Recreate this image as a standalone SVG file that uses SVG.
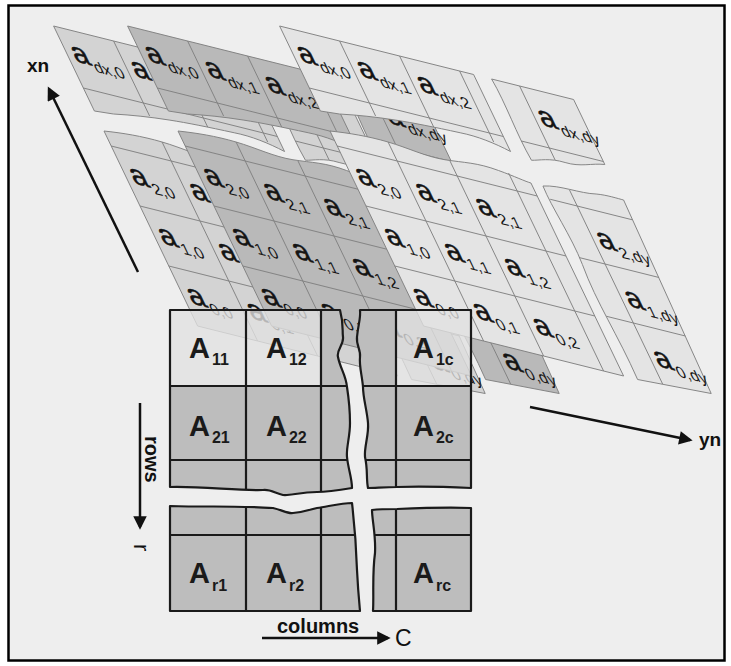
<svg xmlns="http://www.w3.org/2000/svg" width="731" height="666" viewBox="0 0 731 666">
<style>
.tl{stroke:#808080;stroke-width:0.8;stroke-linejoin:round}
.gl{fill:none;stroke:#808080;stroke-width:0.8}
.lab{font-family:"Liberation Sans",Arial,sans-serif;fill:#141414}
.g{font-size:30px;stroke:#141414;stroke-width:0.6}
.s{font-size:16px;stroke:none}
.m{stroke:#1a1a1a;stroke-width:2.2;fill:none;stroke-linejoin:round}
.lt{fill:#e2e2e2;fill-opacity:0.78}
.md{fill:#bdbdbd}
.A{font-family:"Liberation Sans",Arial,sans-serif;font-weight:bold;fill:#1a1a1a}
.ax{stroke:#111;stroke-width:2.5;fill:none}
.t{font-family:"Liberation Sans",Arial,sans-serif;fill:#111}
</style>
<defs>
<marker id="ah" viewBox="0 0 10 10" refX="8" refY="5" markerWidth="5.8" markerHeight="5.4" orient="auto" markerUnits="strokeWidth"><path d="M0,0 L10,5 L0,10 Z" fill="#111"/></marker>
<g id="tiles" class="tl">
<path d="M0,-105 L194,-105 L194,-28 C180,-33 165,-36 147,-35 C120,-34 100,-33 80,-31 C60,-29 40,-26 20,-22 L0,-20 Z"/>
<path d="M212,-105 L294,-105 L294,-40 C280,-38 265,-30 250,-31 C235,-32 222,-26 213,-24 C210,-50 215,-80 212,-105 Z"/>
<path d="M0,0 C20,-3 40,-5 60,-4 C80,-3 95,2 115,0 C135,-2 150,-6 170,-3 C185,-1 195,2 200,2 L200,195 L0,195 Z"/>
<path d="M212,2 C232,-4 250,0 268,-4 C280,-6 290,-5 296,-5 L290,190 L214,195 C216,150 209,120 214,80 C217,50 210,25 212,2 Z"/>
</g>
<g id="grid" class="gl">
<path d="M0,-43 H194 M212,-43 H294 M60,-105 V-30 M120,-105 V-34 M180,-105 V-34 M240,-105 V-31"/>
<path d="M0,15 H200 M0,75 H200 M0,135 H200 M213,15 H295 M214,73 H294 M213,132 H292 M60,-4 V195 M120,0 V195 M180,-3 V195 M240,-1 V193"/>
</g>
</defs>
<rect x="0" y="0" width="731" height="666" fill="#ffffff"/>
<rect x="8.5" y="5.5" width="716" height="655" fill="#eeeeee" stroke="#000" stroke-width="2.5"/>

<g id="layer-1" transform="matrix(1,0.25,0.48,1,104,131)">
<use href="#tiles" fill="#d3d3d3"/>
<use href="#grid"/>
<text class="lab" x="6" y="-71"><tspan class="g">a</tspan><tspan class="s" dx="1" dy="6">dx,0</tspan></text>
<text class="lab g" x="66" y="-71">a</text>
<text class="lab" x="6" y="51"><tspan class="g">a</tspan><tspan class="s" dx="1" dy="6">2,0</tspan></text>
<text class="lab g" x="66" y="51">a</text>
<text class="lab" x="6" y="111"><tspan class="g">a</tspan><tspan class="s" dx="1" dy="6">1,0</tspan></text>
<text class="lab g" x="66" y="111">a</text>
<text class="lab" x="6" y="171"><tspan class="g">a</tspan><tspan class="s" dx="1" dy="6">0,0</tspan></text>
<text class="lab" x="66" y="171"><tspan class="g">a</tspan><tspan class="s" dx="1" dy="6">0,1</tspan></text>
<text class="lab" x="245" y="176"><tspan class="g">a</tspan><tspan class="s" dx="1" dy="6">0,dy</tspan></text>
</g>

<g id="layer-2" transform="matrix(1,0.25,0.48,1,178,131)">
<use href="#tiles" fill="#b9b9b9"/>
<use href="#grid"/>
<text class="lab" x="6" y="-71"><tspan class="g">a</tspan><tspan class="s" dx="1" dy="6">dx,0</tspan></text>
<text class="lab" x="66" y="-71"><tspan class="g">a</tspan><tspan class="s" dx="1" dy="6">dx,1</tspan></text>
<text class="lab" x="126" y="-71"><tspan class="g">a</tspan><tspan class="s" dx="1" dy="6">dx,2</tspan></text>
<text class="lab" x="245" y="-69"><tspan class="g">a</tspan><tspan class="s" dx="1" dy="6">dx,dy</tspan></text>
<text class="lab" x="6" y="51"><tspan class="g">a</tspan><tspan class="s" dx="1" dy="6">2,0</tspan></text>
<text class="lab" x="66" y="51"><tspan class="g">a</tspan><tspan class="s" dx="1" dy="6">2,1</tspan></text>
<text class="lab" x="126" y="51"><tspan class="g">a</tspan><tspan class="s" dx="1" dy="6">2,1</tspan></text>
<text class="lab" x="6" y="111"><tspan class="g">a</tspan><tspan class="s" dx="1" dy="6">1,0</tspan></text>
<text class="lab" x="66" y="111"><tspan class="g">a</tspan><tspan class="s" dx="1" dy="6">1,1</tspan></text>
<text class="lab" x="126" y="111"><tspan class="g">a</tspan><tspan class="s" dx="1" dy="6">1,2</tspan></text>
<text class="lab" x="6" y="171"><tspan class="g">a</tspan><tspan class="s" dx="1" dy="6">0,0</tspan></text>
<text class="lab" x="66" y="171"><tspan class="g">a</tspan><tspan class="s" dx="1" dy="6">0,1</tspan></text>
<text class="lab" x="126" y="171"><tspan class="g">a</tspan><tspan class="s" dx="1" dy="6">0,2</tspan></text>
<text class="lab" x="245" y="176"><tspan class="g">a</tspan><tspan class="s" dx="1" dy="6">0,dy</tspan></text>
</g>

<g id="layer-3" transform="matrix(1,0.25,0.48,1,330,131)">
<use href="#tiles" fill="#e4e4e4"/>
<use href="#grid"/>
<text class="lab" x="6" y="-71"><tspan class="g">a</tspan><tspan class="s" dx="1" dy="6">dx,0</tspan></text>
<text class="lab" x="66" y="-71"><tspan class="g">a</tspan><tspan class="s" dx="1" dy="6">dx,1</tspan></text>
<text class="lab" x="126" y="-71"><tspan class="g">a</tspan><tspan class="s" dx="1" dy="6">dx,2</tspan></text>
<text class="lab" x="245" y="-67"><tspan class="g">a</tspan><tspan class="s" dx="1" dy="6">dx,dy</tspan></text>
<text class="lab" x="6" y="51"><tspan class="g">a</tspan><tspan class="s" dx="1" dy="6">2,0</tspan></text>
<text class="lab" x="66" y="51"><tspan class="g">a</tspan><tspan class="s" dx="1" dy="6">2,1</tspan></text>
<text class="lab" x="126" y="51"><tspan class="g">a</tspan><tspan class="s" dx="1" dy="6">2,1</tspan></text>
<text class="lab" x="245" y="55"><tspan class="g">a</tspan><tspan class="s" dx="1" dy="6">2,dy</tspan></text>
<text class="lab" x="6" y="111"><tspan class="g">a</tspan><tspan class="s" dx="1" dy="6">1,0</tspan></text>
<text class="lab" x="66" y="111"><tspan class="g">a</tspan><tspan class="s" dx="1" dy="6">1,1</tspan></text>
<text class="lab" x="126" y="111"><tspan class="g">a</tspan><tspan class="s" dx="1" dy="6">1,2</tspan></text>
<text class="lab" x="245" y="114"><tspan class="g">a</tspan><tspan class="s" dx="1" dy="6">1,dy</tspan></text>
<text class="lab" x="6" y="171"><tspan class="g">a</tspan><tspan class="s" dx="1" dy="6">0,0</tspan></text>
<text class="lab" x="66" y="171"><tspan class="g">a</tspan><tspan class="s" dx="1" dy="6">0,1</tspan></text>
<text class="lab" x="126" y="171"><tspan class="g">a</tspan><tspan class="s" dx="1" dy="6">0,2</tspan></text>
<text class="lab" x="245" y="174"><tspan class="g">a</tspan><tspan class="s" dx="1" dy="6">0,dy</tspan></text>
</g>

<g id="matrix-A">
<rect class="lt" x="170" y="310" width="151" height="76"/>
<rect class="lt" x="396" y="310" width="75" height="76"/>
<path class="md" d="M321,310 L340,310 C344,325 342,330 343,337 C344,345 336,350 338,357 C340,368 346,375 347,387 C349,400 350,410 350,423 C350,438 346,447 347,457 C348,468 352,478 352,488 C340,490 325,492 317,492 C300,492 290,496 283,495 C275,493 270,489 263,490 C240,491 200,486 170,487 L170,386 L321,386 Z"/>
<path class="md" d="M360,310 L396,310 L396,386 L471,386 L471,488 C450,487 420,486 397,487 C385,487 375,488 368,488 C366,478 368,470 365,457 C364,447 369,435 368,423 C367,410 363,398 363,387 C362,375 359,366 360,357 C361,350 356,345 357,337 C358,325 361,318 360,310 Z"/>
<path class="md" d="M170,506 C200,507 230,506 247,507 C260,507 265,508 273,508 C282,510 288,514 293,513 C305,512 312,509 317,508 C330,506 342,503 352,503 C354,520 356,540 357,570 C358,590 359,600 360,611 L170,611 Z"/>
<path class="md" d="M372,510 C380,509 390,509 397,509 C420,508 450,507 471,508 L471,611 L373,611 C374,595 372,575 375,553 C376,535 372,520 372,510 Z"/>
<path class="m" d="M170,310 L340,310 C344,325 342,330 343,337 C344,345 336,350 338,357 C340,368 346,375 347,387 C349,400 350,410 350,423 C350,438 346,447 347,457 C348,468 352,478 352,488 C340,490 325,492 317,492 C300,492 290,496 283,495 C275,493 270,489 263,490 C240,491 200,486 170,487 Z"/>
<path class="m" d="M360,310 L471,310 L471,488 C450,487 420,486 397,487 C385,487 375,488 368,488 C366,478 368,470 365,457 C364,447 369,435 368,423 C367,410 363,398 363,387 C362,375 359,366 360,357 C361,350 356,345 357,337 C358,325 361,318 360,310 Z"/>
<path class="m" d="M170,506 C200,507 230,506 247,507 C260,507 265,508 273,508 C282,510 288,514 293,513 C305,512 312,509 317,508 C330,506 342,503 352,503 C354,520 356,540 357,570 C358,590 359,600 360,611 L170,611 Z"/>
<path class="m" d="M372,510 C380,509 390,509 397,509 C420,508 450,507 471,508 L471,611 L373,611 C374,595 372,575 375,553 C376,535 372,520 372,510 Z"/>
<path class="m" d="M170,386 H347 M362,386 H471 M170,460 H347 M366,460 H471 M246,310 V490 M321,310 V492 M396,310 V487 M170,535 H356 M374,535 H471 M246,507 V611 M321,508 V611 M396,509 V611"/>
<text class="A" x="189" y="358"><tspan font-size="29">A</tspan><tspan font-size="16" dx="2" dy="7">11</tspan></text>
<text class="A" x="266" y="358"><tspan font-size="29">A</tspan><tspan font-size="16" dx="2" dy="7">12</tspan></text>
<text class="A" x="413" y="358"><tspan font-size="29">A</tspan><tspan font-size="16" dx="2" dy="7">1c</tspan></text>
<text class="A" x="189" y="436"><tspan font-size="29">A</tspan><tspan font-size="16" dx="2" dy="7">21</tspan></text>
<text class="A" x="266" y="436"><tspan font-size="29">A</tspan><tspan font-size="16" dx="2" dy="7">22</tspan></text>
<text class="A" x="413" y="436"><tspan font-size="29">A</tspan><tspan font-size="16" dx="2" dy="7">2c</tspan></text>
<text class="A" x="189" y="583"><tspan font-size="29">A</tspan><tspan font-size="16" dx="2" dy="8">r1</tspan></text>
<text class="A" x="266" y="583"><tspan font-size="29">A</tspan><tspan font-size="16" dx="2" dy="8">r2</tspan></text>
<text class="A" x="413" y="583"><tspan font-size="29">A</tspan><tspan font-size="16" dx="2" dy="8">rc</tspan></text>
</g>

<g id="connectors">
<path class="ax" d="M138,272 L49,89" marker-end="url(#ah)"/>
<path class="ax" d="M530,407 L690,440" marker-end="url(#ah)"/>
<path class="ax" d="M140,403 V527" marker-end="url(#ah)"/>
<path class="ax" d="M262,638 H388" marker-end="url(#ah)"/>
</g>

<g id="axis-labels">
<text class="t" x="27" y="72" font-size="19" font-weight="bold">xn</text>
<text class="t" x="699" y="446" font-size="19" font-weight="bold">yn</text>
<text class="t" font-size="20" font-weight="bold" transform="translate(145,436) rotate(90)">rows</text>
<text class="t" font-size="22" transform="translate(134,544) rotate(90)">r</text>
<text class="t" x="277" y="633" font-size="20" font-weight="bold">columns</text>
<text class="t" x="395" y="646" font-size="23">C</text>
</g>
</svg>
